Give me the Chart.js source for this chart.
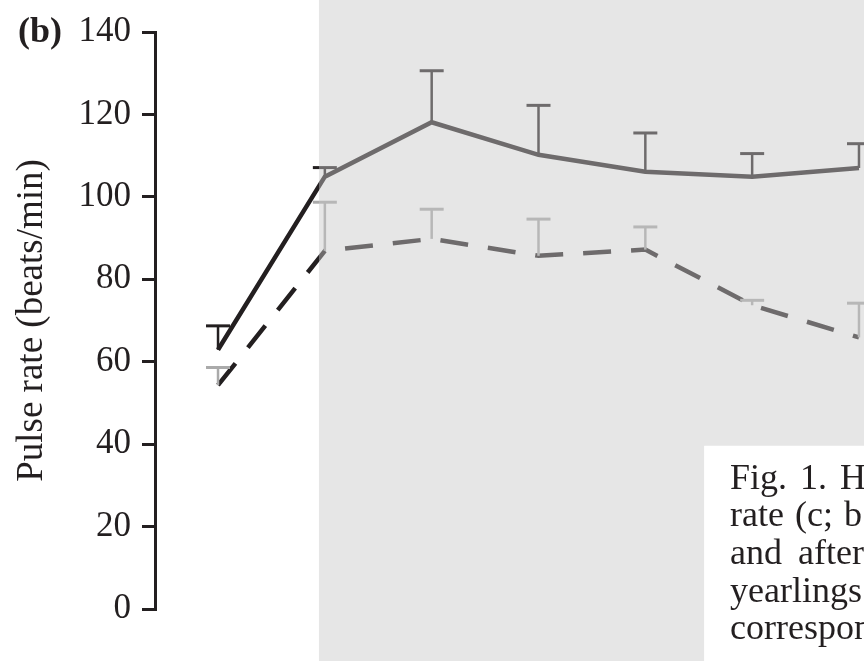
<!DOCTYPE html>
<html>
<head>
<meta charset="utf-8">
<script src="https://cdn.jsdelivr.net/npm/chart.js@4.4.0/dist/chart.umd.min.js"></script>
<style>
  html, body { margin: 0; padding: 0; background: #ffffff; }
  #wrap { width: 864px; height: 661px; position: relative; }
</style>
</head>
<body>
<div id="wrap"><canvas id="c"></canvas></div>
<script>
// Sampling occasions (one per measurement)
const sessions = [0, 1, 2, 3, 4, 5, 6];
// Pulse rate, solid series: mean and upper error (beats/min)
const solidMean = [62.9, 104.9, 118.1, 110.2, 106.1, 104.9, 107.0];
const solidErr  = [5.8, 2.2, 12.5, 12.0, 9.4, 5.6, 5.9];
// Pulse rate, dashed series: mean and upper error (beats/min)
const dashedMean = [54.3, 86.9, 89.8, 85.7, 87.2, 73.7, 65.9];
const dashedErr  = [4.3, 11.8, 7.2, 8.9, 5.5, 1.2, 8.3];
// Y axis tick values
const yTicks = [0, 20, 40, 60, 80, 100, 120, 140];
// Panel letter and caption fragment
const panelLabel = '(b)';
const captionLines = ['Fig. 1. H', 'rate (c; b', 'and after', 'yearlings', 'correspon'];

const INK = '#231f20';
const SERIF = '"Liberation Serif", "Times New Roman", serif';

const toPoints = (xs, ys) => xs.map((x, i) => ({ x: x, y: ys[i] }));

// Error bars, shaded treatment block, caption box and panel letter
const decorations = {
  id: 'decorations',
  afterDatasetsDraw(chart, args, opts) {
    const { ctx, scales: { x, y } } = chart;
    ctx.save();

    // upper error bars
    chart.data.datasets.forEach(ds => {
      ds.data.forEach((pt, j) => {
        const px = x.getPixelForValue(pt.x);
        const y0 = y.getPixelForValue(pt.y);
        const y1 = y.getPixelForValue(pt.y + ds.errors[j]);
        ctx.strokeStyle = ds.errorColor;
        ctx.lineCap = 'butt';
        ctx.lineWidth = 2.5;
        ctx.beginPath(); ctx.moveTo(px, y0); ctx.lineTo(px, y1); ctx.stroke();
        ctx.lineWidth = 3;
        ctx.beginPath(); ctx.moveTo(px - 12, y1); ctx.lineTo(px + 12, y1); ctx.stroke();
      });
    });

    // shaded block from the start of the treatment period to the right edge
    const shadeLeft = x.getPixelForValue(opts.shadeFrom);
    ctx.fillStyle = 'rgba(200,200,200,0.455)';
    ctx.fillRect(shadeLeft, 0, chart.width - shadeLeft, chart.height);

    // caption box (justified lines: extra space between words)
    const boxLeft = x.getPixelForValue(opts.boxX);
    const boxTop = y.getPixelForValue(opts.boxY);
    ctx.fillStyle = '#ffffff';
    ctx.fillRect(boxLeft, boxTop, chart.width - boxLeft, chart.height - boxTop);
    ctx.fillStyle = INK;
    ctx.font = '36px ' + SERIF;
    ctx.textAlign = 'left';
    ctx.textBaseline = 'alphabetic';
    const spaceW = ctx.measureText(' ').width;
    captionLines.forEach((line, i) => {
      let cx = boxLeft + 26;
      const by = boxTop + 43 + i * 37.6;
      line.split(' ').forEach(word => {
        ctx.fillText(word, cx, by);
        cx += ctx.measureText(word).width + spaceW + opts.wordGap[i];
      });
    });

    // panel letter
    ctx.font = 'bold 36px ' + SERIF;
    ctx.fillText(panelLabel, 18, 42);

    ctx.restore();
  }
};

new Chart(document.getElementById('c'), {
  type: 'line',
  data: {
    datasets: [
      {
        data: toPoints(sessions, solidMean),
        errors: solidErr,
        errorColor: INK,
        borderColor: INK,
        borderWidth: 4.5,
        pointRadius: 0,
        tension: 0,
        fill: false
      },
      {
        data: toPoints(sessions, dashedMean),
        errors: dashedErr,
        errorColor: '#aaaaaa',
        borderColor: INK,
        borderWidth: 4.5,
        borderDash: [28, 20],
        borderCapStyle: 'butt',
        pointRadius: 0,
        tension: 0,
        fill: false
      }
    ]
  },
  options: {
    responsive: true,
    maintainAspectRatio: false,
    animation: false,
    devicePixelRatio: 1,
    layout: { padding: { top: 26, bottom: 52, left: 0, right: 0 } },
    plugins: {
      legend: { display: false },
      tooltip: { enabled: false },
      decorations: { shadeFrom: 0.945, boxX: 4.55, boxY: 39.6, wordGap: [4, 2, 7, 0, 0] }
    },
    scales: {
      x: {
        type: 'linear',
        display: false,
        min: -0.59,
        max: 6.047
      },
      y: {
        type: 'linear',
        min: 0,
        max: 140,
        afterBuildTicks: s => { s.ticks = yTicks.map(v => ({ value: v })); },
        afterFit: s => { s.width = 155; },
        ticks: {
          font: { family: SERIF, size: 35 },
          color: INK,
          padding: 11
        },
        grid: {
          display: true,
          drawOnChartArea: false,
          drawTicks: true,
          tickLength: 13,
          tickWidth: 3,
          tickColor: INK,
          color: INK,
          lineWidth: 3
        },
        border: { display: true, color: INK, width: 3 },
        title: {
          display: true,
          text: 'Pulse rate (beats/min)',
          font: { family: SERIF, size: 37 },
          color: INK,
          padding: { top: 10, bottom: 0 }
        }
      }
    }
  },
  plugins: [decorations]
});
</script>
</body>
</html>
